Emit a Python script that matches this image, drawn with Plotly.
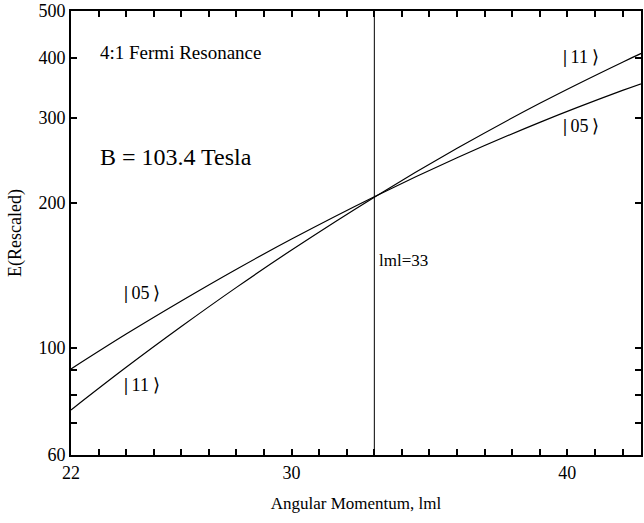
import math
import plotly.graph_objects as go

# Data
m_vals = [22, 24, 26, 28, 30, 33, 36, 39, 42, 43]
E_05 = [90.5, 106.9, 125.2, 145.7, 168.3, 206.0, 248.1, 293.8, 342.2, 358.6]
E_11 = [74.4, 91.2, 110.8, 133.6, 159.7, 205.5, 259.5, 321.8, 391.6, 416.3]
m_marker = 33
x_major = [22, 30, 40]
y_major = [60, 100, 200, 300, 400, 500]
y_minor = [70, 80, 90]

FONT = "Times New Roman, Liberation Serif, Times, serif"

fig = go.Figure()
for E in (E_05, E_11):
    fig.add_trace(go.Scatter(x=m_vals, y=E, mode="lines", line=dict(color="black", width=1.2, shape="spline"),
                             showlegend=False, hoverinfo="skip"))
fig.add_trace(go.Scatter(x=[m_marker, m_marker], y=[60, 500], mode="lines",
                         line=dict(color="black", width=1), showlegend=False, hoverinfo="skip"))

ket05 = "<b>|</b>\u200905\u2009⟩"
ket11 = "<b>|</b>\u200911\u2009⟩"
ann = [
    dict(x=22.97, y=2.6122, text="4:1 Fermi Resonance", xanchor="left", size=19),
    dict(x=22.97, y=2.3965, text="B = 103.4 Tesla", xanchor="left", size=24),
    dict(x=33.1, y=2.1807, text="lml=33", xanchor="left", size=17),
    dict(x=24.59, y=2.1143, text=ket05, xanchor="center", size=18),
    dict(x=24.59, y=1.9234, text=ket11, xanchor="center", size=18),
    dict(x=40.49, y=2.6039, text=ket11, xanchor="center", size=18),
    dict(x=40.49, y=2.4608, text=ket05, xanchor="center", size=18),
]
for a in ann:
    fig.add_annotation(x=a["x"], y=a["y"], xref="x", yref="y", text=a["text"], showarrow=False,
                       xanchor=a["xanchor"], yanchor="middle",
                       font=dict(family=FONT, size=a["size"], color="black"))

fig.update_layout(
    width=644, height=523,
    margin=dict(l=71, r=1, t=11, b=68),
    paper_bgcolor="white", plot_bgcolor="white",
    font=dict(family=FONT, size=18, color="black"),
    xaxis=dict(range=[22, 42.67], tickvals=x_major, ticktext=[str(v) for v in x_major],
               ticks="inside", ticklen=6, tickwidth=1.5, tickcolor="black",
               showline=True, linecolor="black", linewidth=2, mirror="ticks",
               showgrid=False, zeroline=False,
               minor=dict(dtick=1, tick0=22, ticks="inside", ticklen=6, tickwidth=1.5, tickcolor="black", showgrid=False),
               title=dict(text="Angular Momentum, lml", font=dict(family=FONT, size=17), standoff=16),
               tickfont=dict(family=FONT, size=18)),
    yaxis=dict(type="log", range=[math.log10(60), math.log10(500)], tickvals=y_major,
               ticktext=[str(v) for v in y_major],
               ticks="inside", ticklen=6, tickwidth=1.5, tickcolor="black",
               showline=True, linecolor="black", linewidth=2, mirror="ticks",
               showgrid=False, zeroline=False,
               minor=dict(tickvals=y_minor, ticks="inside", ticklen=6, tickwidth=1.5, tickcolor="black", showgrid=False),
               title=dict(text="E(Rescaled)", font=dict(family=FONT, size=18), standoff=12),
               tickfont=dict(family=FONT, size=18)),
)

fig.write_html("out.html")
